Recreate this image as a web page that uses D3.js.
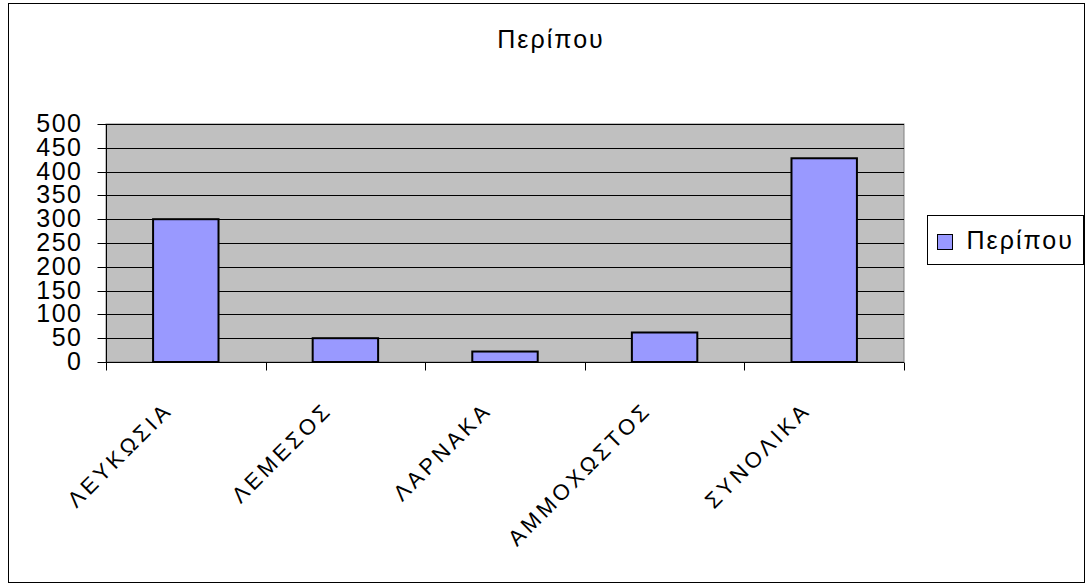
<!DOCTYPE html>
<html>
<head>
<meta charset="utf-8">
<script src="https://cdn.jsdelivr.net/npm/d3@7"></script>
<style>
  body { margin: 0; background: #fff; }
  text { font-family: "Liberation Sans", Arial, sans-serif; fill: #000; }
</style>
</head>
<body>
<script>
const width = 1086
const height = 584

// Data
const categories = ['ΛΕΥΚΩΣΙΑ', 'ΛΕΜΕΣΟΣ', 'ΛΑΡΝΑΚΑ', 'ΑΜΜΟΧΩΣΤΟΣ', 'ΣΥΝΟΛΙΚΑ']
const values = [300, 50, 22, 62, 428]
const yTicks = [0, 50, 100, 150, 200, 250, 300, 350, 400, 450, 500]
const seriesName = 'Περίπου'
const titleText = 'Περίπου'

const plot = {left: 106, right: 904, top: 124, bottom: 362}

const svg = d3.select('body').append('svg')
  .attr('width', width)
  .attr('height', height)

// outer frame
svg.append('rect')
  .attr('x', 8.5).attr('y', 3.5)
  .attr('width', width - 10).attr('height', height - 5)
  .attr('fill', '#fff').attr('stroke', '#000').attr('stroke-width', 1)

const x = d3.scaleBand()
  .domain(categories)
  .range([plot.left, plot.right])
  .padding(0)

const y = d3.scaleLinear()
  .domain([0, 500])
  .range([plot.bottom, plot.top])

// plot area background
svg.append('rect')
  .attr('x', plot.left).attr('y', plot.top)
  .attr('width', plot.right - plot.left).attr('height', plot.bottom - plot.top)
  .attr('fill', '#c0c0c0')
  .attr('stroke', '#808080')

// gridlines
svg.append('g').selectAll('line.grid')
  .data(yTicks.filter(d => d > 0))
  .enter().append('line').classed('grid', true)
  .attr('x1', plot.left).attr('x2', plot.right)
  .attr('y1', d => Math.round(y(d)) + 0.5).attr('y2', d => Math.round(y(d)) + 0.5)
  .attr('stroke', '#000')

// bars
const barWidth = x.bandwidth() * 0.41
svg.append('g').selectAll('rect.bar')
  .data(values)
  .enter().append('rect').classed('bar', true)
  .attr('x', (d, i) => x(categories[i]) + (x.bandwidth() - barWidth) / 2)
  .attr('y', d => y(d))
  .attr('width', barWidth)
  .attr('height', d => y(0) - y(d))
  .attr('fill', '#9999ff')
  .attr('stroke', '#000')
  .attr('stroke-width', 2)

// y axis
const yAxis = svg.append('g').attr('transform', `translate(${plot.left + 0.5},0)`)
yAxis.append('line')
  .attr('y1', plot.top).attr('y2', plot.bottom)
  .attr('stroke', '#000')
yAxis.selectAll('line.tick')
  .data(yTicks)
  .enter().append('line').classed('tick', true)
  .attr('x1', -9).attr('x2', 0)
  .attr('y1', d => Math.round(y(d)) + 0.5).attr('y2', d => Math.round(y(d)) + 0.5)
  .attr('stroke', '#000')
yAxis.selectAll('text')
  .data(yTicks)
  .enter().append('text')
  .attr('x', -24)
  .attr('y', d => y(d) + 8)
  .attr('text-anchor', 'end')
  .style('font-size', '25px')
  .style('letter-spacing', '1.5px')
  .text(d => d)

// x axis
const xAxis = svg.append('g').attr('transform', `translate(0,${plot.bottom + 0.5})`)
xAxis.append('line')
  .attr('x1', plot.left).attr('x2', plot.right)
  .attr('stroke', '#000')
const bounds = categories.map(c => x(c)).concat([plot.right])
xAxis.selectAll('line.tick')
  .data(bounds)
  .enter().append('line').classed('tick', true)
  .attr('x1', d => Math.round(d) + 0.5).attr('x2', d => Math.round(d) + 0.5)
  .attr('y1', 0).attr('y2', 8)
  .attr('stroke', '#000')
xAxis.selectAll('text')
  .data(categories)
  .enter().append('text')
  .attr('transform', d => `translate(${x(d) + x.bandwidth() / 2 - 12},${49}) rotate(-45)`)
  .attr('text-anchor', 'end')
  .style('font-size', '22px')
  .style('letter-spacing', '3.5px')
  .text(d => d)

// title
svg.append('text')
  .attr('x', 551).attr('y', 48)
  .attr('text-anchor', 'middle')
  .style('font-size', '25px')
  .style('letter-spacing', '2px')
  .text(titleText)

// legend
const legend = svg.append('g').attr('transform', 'translate(927.5,215.5)')
legend.append('rect')
  .attr('width', 156).attr('height', 49)
  .attr('fill', '#fff').attr('stroke', '#000')
legend.append('rect')
  .attr('x', 10).attr('y', 19)
  .attr('width', 15).attr('height', 15)
  .attr('fill', '#9999ff').attr('stroke', '#000')
legend.append('text')
  .attr('x', 39).attr('y', 33)
  .style('font-size', '25px')
  .style('letter-spacing', '2px')
  .text(seriesName)
</script>
</body>
</html>
